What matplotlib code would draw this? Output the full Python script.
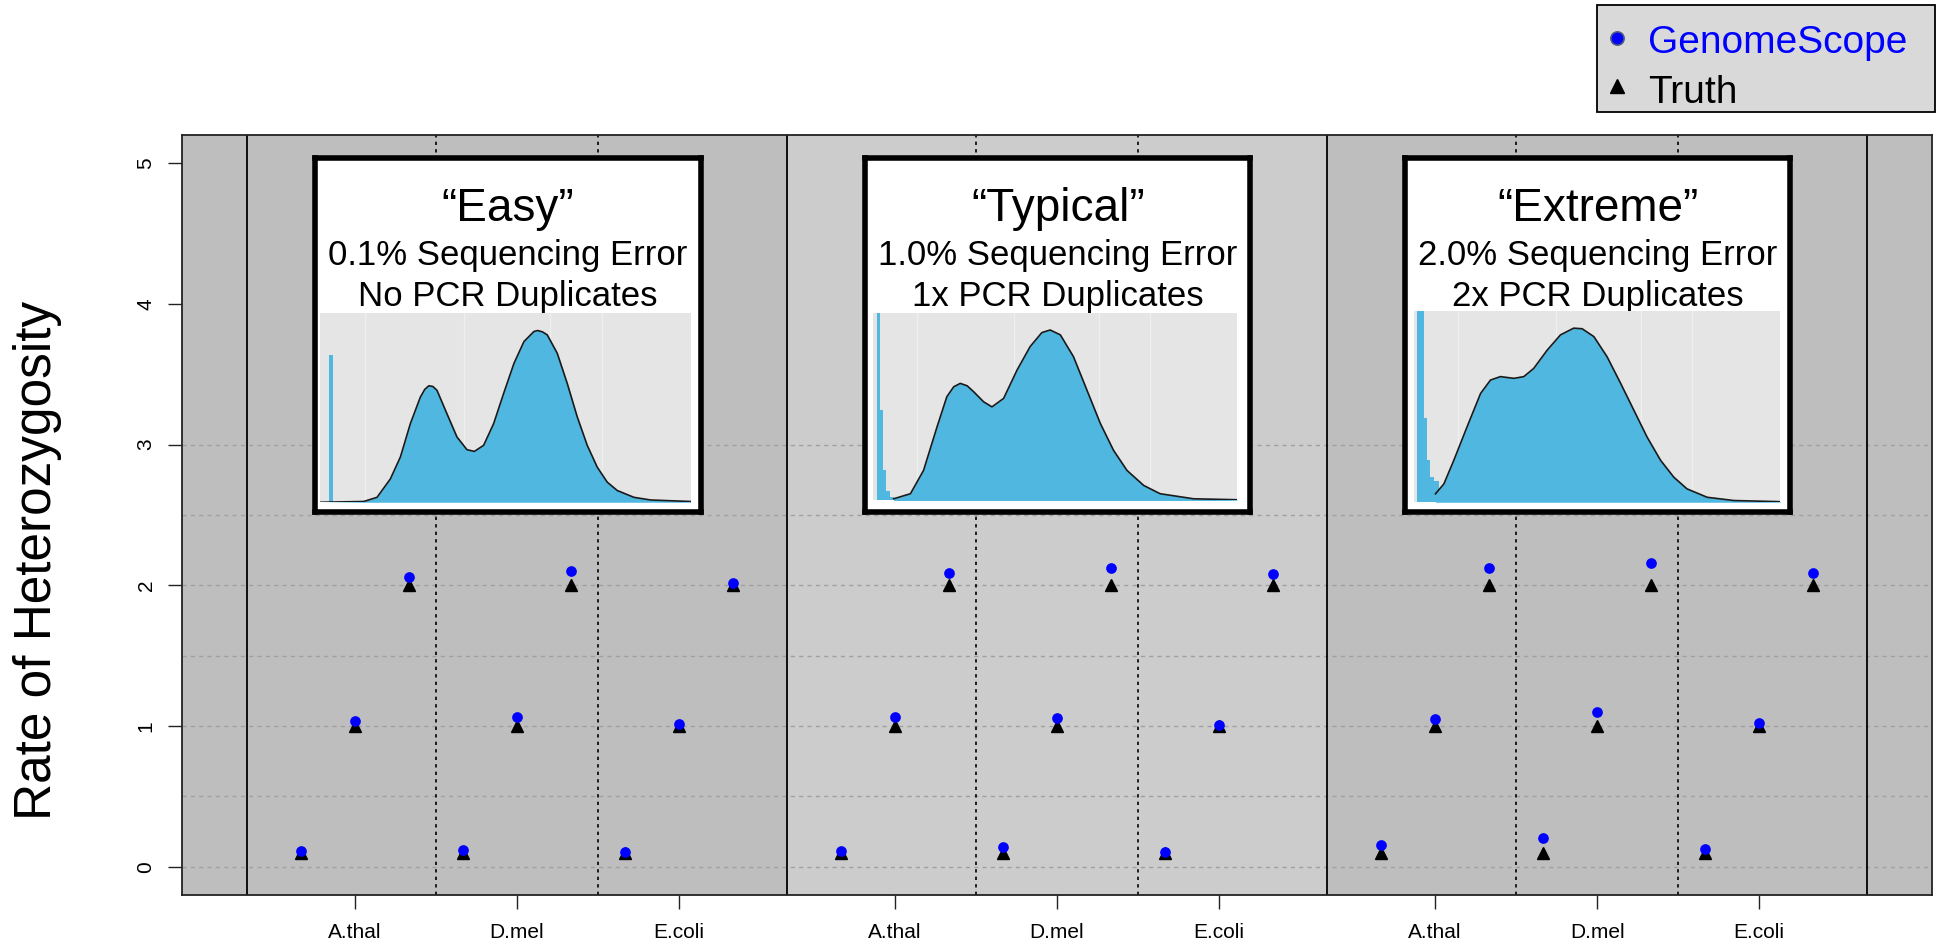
import matplotlib
matplotlib.use("Agg")
import matplotlib.pyplot as plt
from matplotlib.lines import Line2D
from matplotlib.patches import Rectangle
import numpy as np

plt.rcParams['font.family'] = ['Liberation Sans', 'DejaVu Sans']

# species / scenarios
species = ["A.thal", "D.mel", "E.coli"]
scenario_titles = ["\u201cEasy\u201d", "\u201cTypical\u201d", "\u201cExtreme\u201d"]
scenario_error = ["0.1% Sequencing Error", "1.0% Sequencing Error", "2.0% Sequencing Error"]
scenario_pcr = ["No PCR Duplicates", "1x PCR Duplicates", "2x PCR Duplicates"]

# heterozygosity (%) : 3 species x 3 levels per scenario
truth_easy = [0.1, 1.0, 2.0, 0.1, 1.0, 2.0, 0.1, 1.0, 2.0]
truth_typical = [0.1, 1.0, 2.0, 0.1, 1.0, 2.0, 0.1, 1.0, 2.0]
truth_extreme = [0.1, 1.0, 2.0, 0.1, 1.0, 2.0, 0.1, 1.0, 2.0]
gs_easy = [0.11, 1.035, 2.06, 0.118, 1.064, 2.10, 0.107, 1.014, 2.02]
gs_typical = [0.114, 1.062, 2.09, 0.142, 1.059, 2.126, 0.109, 1.007, 2.078]
gs_extreme = [0.154, 1.047, 2.12, 0.206, 1.10, 2.16, 0.128, 1.024, 2.09]

# k-mer profiles shown in the insets (coverage, frequency, both 0-100)
easy_cov = [0, 11.7, 15.3, 18.9, 21.6, 24.3, 27.0, 28.2, 29.3, 30.4, 31.5, 34.2, 36.9, 39.6,
            41.6, 44.1, 46.8, 49.5, 52.3, 55.0, 57.7, 58.7, 60.0, 61.3, 64.0, 66.7, 69.4,
            72.1, 74.8, 77.5, 80.2, 84.7, 89.2, 100]
easy_freq = [0, 0.4, 2.6, 12.3, 23.8, 41.4, 55.4, 59.5, 61.4, 61.0, 59.0, 46.6, 34.4, 27.7,
             26.8, 30.0, 41.4, 57.3, 73.2, 84.7, 90.0, 90.5, 89.8, 88.2, 78.5, 62.6, 45.0,
             30.0, 18.5, 10.6, 6.2, 2.6, 1.2, 0.4]
easy_err_left = [2.3]
easy_err_width = [1.1]
easy_err_height = [77.6]

typical_cov = [5.7, 10.3, 13.9, 17.6, 20.3, 22.2, 24.0, 25.9, 27.7, 30.4, 32.7, 35.9, 39.6,
               43.2, 46.4, 48.7, 51.5, 55.1, 58.8, 62.5, 66.1, 69.8, 74.4, 78.9, 88.1, 100]
typical_freq = [0.9, 3.6, 16.0, 39.1, 55.2, 60.5, 62.3, 61.0, 57.8, 52.5, 49.8, 54.3, 69.4,
                81.9, 89.3, 90.7, 88.1, 76.5, 58.7, 40.9, 26.7, 16.0, 8.0, 3.6, 0.9, 0.4]
typical_err_left = [1.1, 2.0, 2.7, 3.7, 4.8]
typical_err_width = [0.9, 0.7, 1.0, 1.1, 0.9]
typical_err_height = [100, 48, 16, 5, 2]

extreme_cov = [5.9, 8.2, 10.9, 14.5, 18.2, 20.9, 23.6, 27.3, 30.0, 32.7, 36.4, 40.0, 43.6,
               45.9, 49.1, 52.7, 56.4, 60.0, 63.6, 67.3, 70.9, 74.5, 80.0, 87.3, 100]
extreme_freq = [4.4, 9.6, 21.9, 39.3, 56.8, 63.8, 65.6, 64.7, 65.6, 69.9, 79.5, 87.4, 90.9,
                90.6, 86.5, 76.0, 62.1, 48.1, 34.1, 21.9, 13.1, 7.0, 2.6, 0.9, 0.3]
extreme_err_left = [0.9, 2.7, 3.5, 4.5, 5.5]
extreme_err_width = [1.8, 0.8, 1.0, 1.0, 1.3]
extreme_err_height = [100, 44, 22, 13, 11]

truths = [truth_easy, truth_typical, truth_extreme]
estimates = [gs_easy, gs_typical, gs_extreme]
profiles = [
    (easy_cov, easy_freq, easy_err_left, easy_err_width, easy_err_height),
    (typical_cov, typical_freq, typical_err_left, typical_err_width, typical_err_height),
    (extreme_cov, extreme_freq, extreme_err_left, extreme_err_width, extreme_err_height),
]

# inset layout (data coords of main axes) and panel placement inside each inset
inset_left = [1.27, 11.45, 21.45]
inset_w, inset_bottom, inset_h = 7.13, 2.52, 2.52
panel_rect = [[0.013, 0.028, 0.961, 0.535],
              [0.020, 0.033, 0.945, 0.530],
              [0.022, 0.028, 0.952, 0.540]]

fill_blue = '#50B7E0'
W, H = 1944, 949

fig = plt.figure(figsize=(19.44, 9.49), dpi=100)
ax = fig.add_axes([182/W, 54/H, 1750/W, 760/H])
ax.set_xlim(-1.2, 31.2)
ax.set_ylim(-0.2, 5.2)
ax.set_facecolor('#BEBEBE')
ax.axvspan(10, 20, color='#CCCCCC', lw=0, zorder=0)

for yv in np.arange(0, 3.01, 0.5):
    ax.axhline(yv, color='#A0A0A0', lw=1.0, dashes=(3, 3), zorder=1)
for g in range(4):
    ax.axvline(10*g, color='black', lw=1.3, zorder=2)
for g in range(3):
    for d in (3.5, 6.5):
        ax.axvline(10*g + d, color='black', lw=1.2, dashes=(2, 2.5), zorder=2)

xticks, xlabels = [], []
for g in range(3):
    xs = 10*g + 1 + np.arange(9)
    ax.plot(xs, truths[g], linestyle='none', marker='^', ms=8.5, color='black', zorder=3)
    ax.plot(xs, estimates[g], linestyle='none', marker='o', ms=7.7, color='blue',
            markeredgewidth=0, zorder=4)
    for s, name in enumerate(species):
        xticks.append(10*g + 3*s + 2)
        xlabels.append(name)

ax.set_xticks(xticks)
ax.set_xticklabels(xlabels, fontsize=15)
ax.set_yticks([0, 1, 2, 3, 4, 5])
ax.set_yticklabels(['0', '1', '2', '3', '4', '5'], fontsize=15, rotation=90, va='center')
ax.tick_params(axis='x', length=10, width=1, color='#222222', pad=10)
ax.tick_params(axis='y', length=10, width=1, color='#222222', pad=9)
for sp in ax.spines.values():
    sp.set_linewidth(1.3)
    sp.set_color('#222222')

fig.text(38/W, 1 - 560/H, "Rate of Heterozygosity", rotation=90, fontsize=37,
         ha='center', va='center')

# insets with k-mer profiles
for g in range(3):
    ins = ax.inset_axes([inset_left[g], inset_bottom, inset_w, inset_h], transform=ax.transData)
    ins.set_facecolor('white')
    ins.set_xticks([])
    ins.set_yticks([])
    for sp in ins.spines.values():
        sp.set_linewidth(4)
        sp.set_color('black')
    ins.text(0.5, 0.821, scenario_titles[g], transform=ins.transAxes, ha='center',
             va='baseline', fontsize=33)
    ins.text(0.5, 0.698, scenario_error[g], transform=ins.transAxes, ha='center',
             va='baseline', fontsize=25)
    ins.text(0.5, 0.582, scenario_pcr[g], transform=ins.transAxes, ha='center',
             va='baseline', fontsize=25)

    cov, freq, el, ew, eh = profiles[g]
    pax = ins.inset_axes(panel_rect[g])
    pax.set_facecolor('#E5E5E5')
    for gx in (12, 38.7, 62, 76):
        pax.axvline(gx, color='#EFEFEF', lw=1.0, zorder=0)
    pax.bar(el, eh, width=ew, align='edge', color=fill_blue, lw=0, zorder=1)
    pax.fill_between(cov, freq, color=fill_blue, lw=0, zorder=1)
    pax.plot(cov, freq, color='#1A1A1A', lw=1.2, zorder=2, solid_joinstyle='round')
    pax.set_xlim(0, 100)
    pax.set_ylim(0, 100)
    pax.set_xticks([])
    pax.set_yticks([])
    for sp in pax.spines.values():
        sp.set_visible(False)

# legend box outside the plot, top right (drawn by hand to match spacing)
fig.add_artist(Rectangle((1597/W, 1 - 112/H), (1935 - 1597)/W, (112 - 5)/H,
                         transform=fig.transFigure, facecolor='#D9D9D9',
                         edgecolor='black', lw=1.3))
fig.add_artist(Line2D([1617/W], [1 - 38/H], transform=fig.transFigure, linestyle='none',
                      marker='o', ms=9.5, markerfacecolor='blue',
                      markeredgecolor='#4C5A80', markeredgewidth=1.2))
fig.add_artist(Line2D([1617/W], [1 - 86/H], transform=fig.transFigure, linestyle='none',
                      marker='^', ms=9.5, color='black'))
fig.text(1648/W, 1 - 53/H, "GenomeScope", color='blue', fontsize=28, va='baseline')
fig.text(1648/W, 1 - 103/H, "Truth", color='black', fontsize=28, va='baseline')

fig.savefig("out.png", dpi=100)
